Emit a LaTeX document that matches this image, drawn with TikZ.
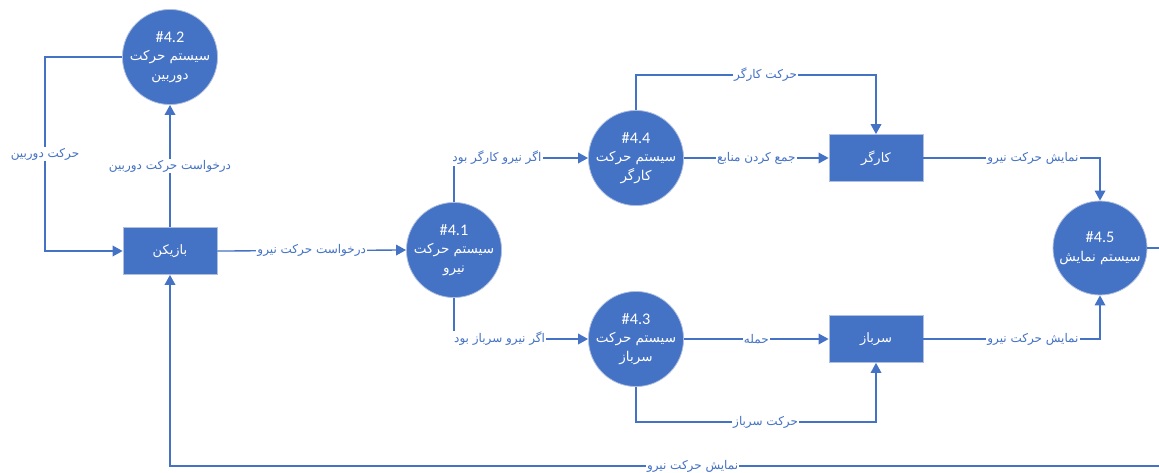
\documentclass[tikz,border=0pt]{standalone}
\usepackage{fontspec}
\setmainfont{Carlito}[Scale=0.9]
\newfontfamily\farsi[Script=Arabic,Scale=0.75]{DejaVu Sans}
\TeXXeTstate=1
\usetikzlibrary{arrows.meta}
\definecolor{dfdBlue}{HTML}{4472C4}
\definecolor{dfdEdge}{HTML}{AFBFDF}
\newcommand{\fatxt}[1]{{\farsi\beginR #1\endR}}

\begin{document}
\begin{tikzpicture}[x=0.75pt, y=-0.75pt,
    every node/.style={font=\small},
    proc/.style={circle, fill=dfdBlue, draw=dfdEdge, line width=0.6pt, minimum size=70.5pt, inner sep=0pt,
      text=white, align=center, font=\fontsize{13.5}{14}\selectfont},
    entity/.style={rectangle, fill=dfdBlue, draw=dfdEdge, line width=0.6pt, minimum width=70.5pt,
      minimum height=35.25pt, text=white, font=\fontsize{13}{15}\selectfont},
    flow/.style={draw=dfdBlue, line width=1pt, -{Triangle[length=7.5pt,width=8pt]}},
    lbl/.style={fill=white, text=dfdBlue, inner sep=1pt, font=\fontsize{12}{14}\selectfont}]
    \useasboundingbox (0,0) rectangle (1159,472);
    % processes
    \node[proc] (c42) at (170,57) {\#4.2\\\fatxt{سیستم حرکت}\\\fatxt{دوربین}};
    \node[proc] (c41) at (454,250) {\#4.1\\\fatxt{سیستم حرکت}\\\fatxt{نیرو}};
    \node[proc] (c44) at (636,158) {\#4.4\\\fatxt{سیستم حرکت}\\\fatxt{کارگر}};
    \node[proc] (c43) at (636,339) {\#4.3\\\fatxt{سیستم حرکت}\\\fatxt{سرباز}};
    \node[proc] (c45) at (1100,248) {\#4.5\\\fatxt{سیستم نمایش}};
    % entities
    \node[entity] (player) at (170,251) {\fatxt{بازیکن}};
    \node[entity] (kargar) at (876,158) {\fatxt{کارگر}};
    \node[entity] (sarbaz) at (876,339) {\fatxt{سرباز}};
    \coordinate (edge) at (1175,466);
    % flows
    \draw[flow] (player.north) -- node[lbl]{\fatxt{درخواست حرکت دوربین}} (c42.south);
    \draw[flow] (c42.west) -- ++(-77,0) |- node[lbl,pos=0.25]{\fatxt{حرکت دوربین}} (player.west);
    \draw[flow] (player.east) -- node[lbl]{\fatxt{درخواست حرکت نیرو}} (c41.west);
    \draw[flow] (c41.north) |- node[lbl,pos=0.66]{\fatxt{اگر نیرو کارگر بود}} (c44.west);
    \draw[flow] (c41.south) |- node[lbl,pos=0.67]{\fatxt{اگر نیرو سرباز بود}} (c43.west);
    \draw[flow] (c44.north) -- ++(0,-35) -| node[lbl,pos=0.27]{\fatxt{حرکت کارگر}} (kargar.north);
    \draw[flow] (c44.east) -- node[lbl]{\fatxt{جمع کردن منابع}} (kargar.west);
    \draw[flow] (c43.east) -- node[lbl]{\fatxt{حمله}} (sarbaz.west);
    \draw[flow] (c43.south) -- ++(0,35) -| node[lbl,pos=0.27]{\fatxt{حرکت سرباز}} (sarbaz.south);
    \draw[flow] (kargar.east) -| node[lbl,pos=0.31]{\fatxt{نمایش حرکت نیرو}} (c45.north);
    \draw[flow] (sarbaz.east) -| node[lbl,pos=0.31]{\fatxt{نمایش حرکت نیرو}} (c45.south);
    \draw[flow] (c45.east) -| (edge) -| node[lbl,pos=0.24]{\fatxt{نمایش حرکت نیرو}} (player.south);
\end{tikzpicture}
\end{document}
